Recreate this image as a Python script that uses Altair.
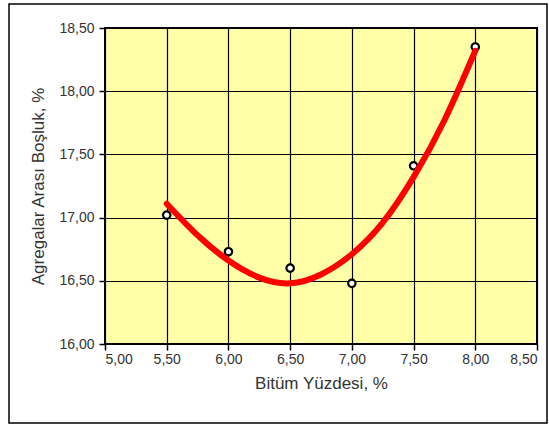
import altair as alt
import pandas as pd

# measured points
bitum = [5.5, 6.0, 6.5, 7.0, 7.5, 8.0]
vma = [17.02, 16.73, 16.60, 16.48, 17.41, 18.35]

# fitted curve
curve_x = [5.5, 5.75, 6.0, 6.25, 6.5, 6.75, 7.0, 7.25, 7.5, 7.75, 8.0]
curve_y = [17.11, 16.86, 16.66, 16.525, 16.48, 16.55, 16.71, 16.96, 17.32, 17.77, 18.32]

x_ticks = [5.0, 5.5, 6.0, 6.5, 7.0, 7.5, 8.0, 8.5]
y_ticks = [16.0, 16.5, 17.0, 17.5, 18.0, 18.5]

pts = pd.DataFrame({"x": bitum, "y": vma})
crv = pd.DataFrame({"x": curve_x, "y": curve_y})

fmt = "replace(format(datum.value, '.2f'), '.', ',')"

xenc = alt.X("x:Q", title="Bitüm Yüzdesi, %",
             scale=alt.Scale(domain=[5.0, 8.5], nice=False, zero=False),
             axis=alt.Axis(values=x_ticks, labelExpr=fmt, titlePadding=9, labelPadding=2))
yenc = alt.Y("y:Q", title="Agregalar Arası Boşluk,  %",
             scale=alt.Scale(domain=[16.0, 18.5], nice=False, zero=False),
             axis=alt.Axis(values=y_ticks, labelExpr=fmt, titlePadding=11, labelPadding=5))

border = alt.Chart(pd.DataFrame({"a": [0]})).mark_rect(
    fill=None, stroke="black", strokeWidth=1.5
).encode(x=alt.value(-96), x2=alt.value(442), y=alt.value(-24), y2=alt.value(395))

points = alt.Chart(pts).mark_point(
    filled=True, fill="white", stroke="black", strokeWidth=2.2, size=55, opacity=1
).encode(x=xenc, y=yenc)

line = alt.Chart(crv).mark_line(
    color="#FF0000", strokeWidth=6, interpolate="natural", strokeCap="round"
).encode(x="x:Q", y="y:Q")

chart = alt.layer(border, points, line).properties(
    width=432, height=316,
    autosize=alt.AutoSizeParams(type="none"),
    padding={"left": 105, "top": 28, "right": 12, "bottom": 81},
    background="white",
).configure_view(
    fill="#FFFFA8", stroke="black", strokeWidth=2
).configure_axis(
    grid=True, gridColor="black", gridWidth=1.2, gridOpacity=1,
    domain=False, tickColor="black", tickSize=6, tickWidth=1.5,
    labelFont="Liberation Sans", labelFontSize=14, labelColor="#333333",
    titleFont="Liberation Sans", titleFontSize=17, titleColor="#333333",
    titleFontWeight="normal",
)

chart.save("out.html", embed_options={"renderer": "svg", "actions": False})
